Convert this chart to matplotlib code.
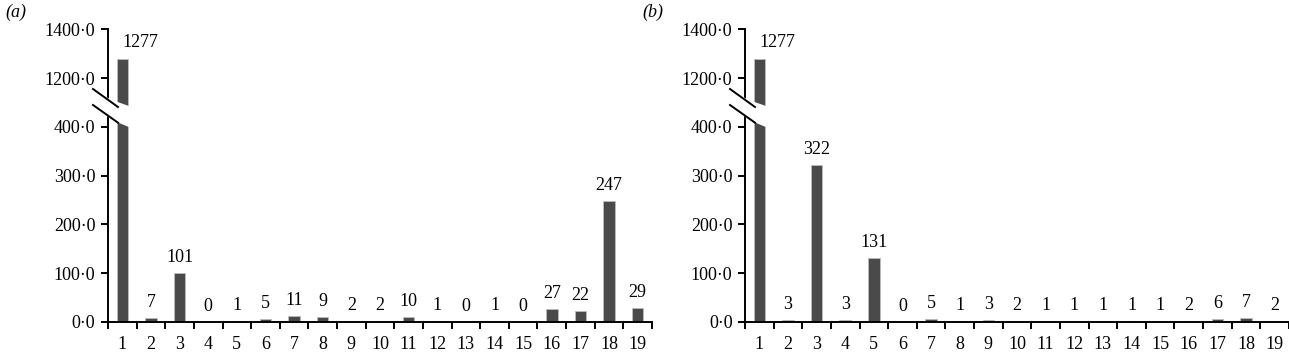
import matplotlib
matplotlib.use("Agg")
import matplotlib.pyplot as plt
from matplotlib.lines import Line2D
from matplotlib.patches import Polygon
from matplotlib.ticker import FuncFormatter

# data
categories = list(range(1, 20))
values_a = [1277, 7, 101, 0, 1, 5, 11, 9, 2, 2, 10, 1, 0, 1, 0, 27, 22, 247, 29]
values_b = [1277, 3, 322, 3, 131, 0, 5, 1, 3, 2, 1, 1, 1, 1, 1, 2, 6, 7, 2]
panel_names = ["(a)", "(b)"]
low_ticks = [0, 100, 200, 300, 400]
high_ticks = [1200, 1400]

W, H = 1289, 355
plt.rcParams["font.family"] = ["Liberation Serif", "DejaVu Serif"]
plt.rcParams["font.size"] = 13

fig = plt.figure(figsize=(W / 100, H / 100), dpi=100)


def px(x, y):
    # pixel (top-left origin) -> figure fraction
    return x / W, 1 - y / H


def fmt(v, pos):
    return "%d\u00b70" % v


bar_color = "#4a4a4a"
edge_color = "#bdbdbd"


def draw_panel(left_px, values, name):
    axw = 544 / W
    # lower part 0..~426, upper part ~1062..1400
    y0, ytop_low = 321.7, 114
    ytop_high, ybot_high = 29.3, 112
    ax_lo = fig.add_axes([left_px / W, 1 - y0 / H, axw, (y0 - ytop_low) / H])
    ax_hi = fig.add_axes([left_px / W, 1 - ybot_high / H, axw, (ybot_high - ytop_high) / H])

    lo_max = (y0 - ytop_low) / 0.487
    hi_min = 1400 - (ybot_high - ytop_high) / 0.2445

    for ax in (ax_lo, ax_hi):
        ax.bar(categories, values, width=0.4, color=bar_color,
               edgecolor=edge_color, linewidth=0.6)
        ax.set_xlim(0.5, 19.5)
        ax.spines["top"].set_visible(False)
        ax.spines["right"].set_visible(False)
        ax.spines["left"].set_linewidth(1.4)
        ax.spines["bottom"].set_linewidth(1.4)
        ax.yaxis.set_major_formatter(FuncFormatter(fmt))
        ax.tick_params(axis="y", length=5, width=1.4, pad=4, labelsize=13)
        ax.set_facecolor("none")

    ax_lo.set_ylim(0, lo_max)
    ax_lo.set_yticks(low_ticks)
    ax_lo.set_xticks(categories)
    ax_lo.set_xticks([c + 0.5 for c in [0] + categories], minor=True)
    ax_lo.tick_params(axis="x", which="major", length=0, pad=10, labelsize=13)
    ax_lo.tick_params(axis="x", which="minor", length=5, width=1.4)

    ax_hi.set_ylim(hi_min, 1400)
    ax_hi.set_yticks(high_ticks)
    ax_hi.spines["bottom"].set_visible(False)
    ax_hi.set_xticks([])

    for c, v in zip(categories, values):
        if v > lo_max:
            ax_hi.annotate(str(v), (c, v), xytext=(13, 6), textcoords="offset points",
                           ha="center", va="bottom", fontsize=13, annotation_clip=False)
        else:
            ax_lo.annotate(str(v), (c, v), xytext=(0, 5), textcoords="offset points",
                           ha="center", va="bottom", fontsize=13, annotation_clip=False)

    # white gap across the spine and the tall bar
    dx = left_px - 108
    gap = [px(100 + dx, 94), px(112 + dx, 100), px(136 + dx, 108.5),
           px(136 + dx, 130), px(112 + dx, 120), px(100 + dx, 110)]
    fig.add_artist(Polygon(gap, closed=True, facecolor="white",
                           edgecolor="none", transform=fig.transFigure, zorder=5))
    for (xa, ya, xb, yb) in [(93, 89, 118, 107), (93, 105, 118, 122.7)]:
        (fx1, fy1), (fx2, fy2) = px(xa + dx, ya), px(xb + dx, yb)
        fig.add_artist(Line2D([fx1, fx2], [fy1, fy2], color="black", lw=1.4,
                              transform=fig.transFigure, zorder=6))

    fx, fy = px(left_px - 103, 12)
    fig.text(fx, fy, name, fontsize=13, style="italic", ha="left", va="center")


draw_panel(108, values_a, panel_names[0])
draw_panel(745, values_b, panel_names[1])

fig.savefig("out.png", dpi=100)
